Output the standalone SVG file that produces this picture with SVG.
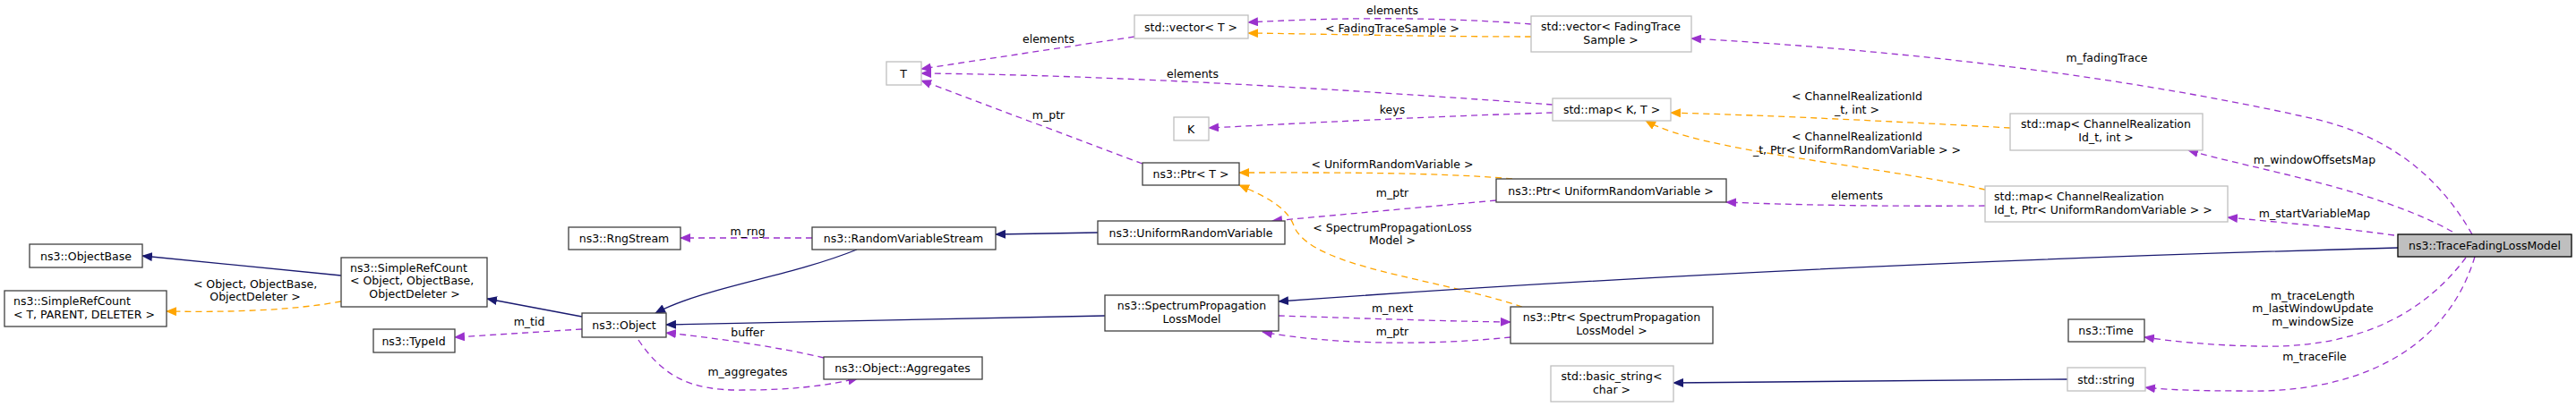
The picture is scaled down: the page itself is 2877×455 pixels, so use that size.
<svg xmlns="http://www.w3.org/2000/svg" width="2877" height="455" viewBox="0 0 2877 455">
<style>
text{font-family:"DejaVu Sans","Liberation Sans",sans-serif;font-size:12.5px;fill:#000}
.n{text-anchor:middle}
.b{fill:#fff;stroke:#404040;stroke-width:1.3}
.g{fill:#fff;stroke:#bfbfbf;stroke-width:1.3}
.m{fill:#bfbfbf;stroke:#000;stroke-width:1.3}
.inh{fill:none;stroke:#191970;stroke-width:1.3}
.use{fill:none;stroke:#9a32cd;stroke-width:1.3;stroke-dasharray:7,5}
.tpl{fill:none;stroke:#ffa500;stroke-width:1.3;stroke-dasharray:7,5}
</style>
<defs>
<marker id="ai" markerWidth="12" markerHeight="10" refX="11" refY="5" orient="auto" markerUnits="userSpaceOnUse"><path d="M0,0L12,5L0,10z" fill="#191970"/></marker>
<marker id="au" markerWidth="12" markerHeight="10" refX="11" refY="5" orient="auto" markerUnits="userSpaceOnUse"><path d="M0,0L12,5L0,10z" fill="#9a32cd"/></marker>
<marker id="at" markerWidth="12" markerHeight="10" refX="11" refY="5" orient="auto" markerUnits="userSpaceOnUse"><path d="M0,0L12,5L0,10z" fill="#ffa500"/></marker>
</defs>
<g id="edges">
<path class="inh" marker-end="url(#ai)" d="M381,308L159,286"/>
<path class="tpl" marker-end="url(#at)" d="M381,337C320,348 250,349 186,348"/>
<text class="n" x="285" y="322">&lt; Object, ObjectBase,</text>
<text class="n" x="285" y="336">ObjectDeleter &gt;</text>
<path class="inh" marker-end="url(#ai)" d="M650,354L544,334"/>
<path class="use" marker-end="url(#au)" d="M650,368L508,377"/>
<text class="n" x="591" y="364">m_tid</text>
<path class="inh" marker-end="url(#ai)" d="M957,279C880,310 790,320 732,350"/>
<path class="use" marker-end="url(#au)" d="M907,266L760,266"/>
<text class="n" x="835" y="263">m_rng</text>
<path class="inh" marker-end="url(#ai)" d="M1234,353L744,363"/>
<path class="use" marker-end="url(#au)" d="M920,400C870,388 800,378 744,372"/>
<text class="n" x="835" y="376">buffer</text>
<path class="use" marker-end="url(#au)" d="M713,380C740,420 770,437 830,436C880,436 920,432 958,423"/>
<text class="n" x="835" y="420">m_aggregates</text>
<path class="inh" marker-end="url(#ai)" d="M1226,260L1112,262"/>
<path class="use" marker-end="url(#au)" d="M1671,224L1421,247"/>
<text class="n" x="1555" y="220">m_ptr</text>
<path class="tpl" marker-end="url(#at)" d="M1689,200C1600,192 1470,193 1384,193"/>
<text class="n" x="1555" y="188">&lt; UniformRandomVariable &gt;</text>
<path class="tpl" marker-end="url(#at)" d="M1700,343C1600,310 1470,300 1446,255C1440,235 1420,222 1384,207"/>
<text class="n" x="1555" y="259">&lt; SpectrumPropagationLoss</text>
<text class="n" x="1555" y="273">Model &gt;</text>
<path class="use" marker-end="url(#au)" d="M1428,353C1500,355 1600,359 1687,360"/>
<text class="n" x="1555" y="349">m_next</text>
<path class="use" marker-end="url(#au)" d="M1687,377C1600,386 1490,386 1410,371"/>
<text class="n" x="1555" y="375">m_ptr</text>
<path class="inh" marker-end="url(#ai)" d="M2678,277C2200,290 1800,310 1428,337"/>
<path class="inh" marker-end="url(#ai)" d="M2309,424L1869,428"/>
<path class="tpl" marker-end="url(#at)" d="M1710,41C1600,41 1480,38 1394,37"/>
<text class="n" x="1555" y="36">&lt; FadingTraceSample &gt;</text>
<path class="use" marker-end="url(#au)" d="M1710,27C1600,18 1480,20 1394,25"/>
<text class="n" x="1555" y="16">elements</text>
<path class="use" marker-end="url(#au)" d="M1267,41L1029,77"/>
<text class="n" x="1171" y="48">elements</text>
<path class="use" marker-end="url(#au)" d="M1734,117C1500,100 1250,84 1029,82"/>
<text class="n" x="1332" y="87">elements</text>
<path class="use" marker-end="url(#au)" d="M1734,126C1600,130 1450,138 1350,143"/>
<text class="n" x="1555" y="127">keys</text>
<path class="use" marker-end="url(#au)" d="M1276,183L1029,90"/>
<text class="n" x="1171" y="133">m_ptr</text>
<path class="tpl" marker-end="url(#at)" d="M2245,143C2120,136 1980,129 1866,126"/>
<text class="n" x="2074" y="112">&lt; ChannelRealizationId</text>
<text class="n" x="2074" y="127">_t, int &gt;</text>
<path class="tpl" marker-end="url(#at)" d="M2217,212C2100,185 1900,170 1838,135"/>
<text class="n" x="2074" y="157">&lt; ChannelRealizationId</text>
<text class="n" x="2074" y="172">_t, Ptr&lt; UniformRandomVariable &gt; &gt;</text>
<path class="use" marker-end="url(#au)" d="M2217,230C2100,231 2000,229 1928,226"/>
<text class="n" x="2074" y="223">elements</text>
<path class="use" marker-end="url(#au)" d="M2761,262C2720,190 2660,150 2585,133C2350,80 2100,55 1889,43"/>
<text class="n" x="2353" y="69">m_fadingTrace</text>
<path class="use" marker-end="url(#au)" d="M2739,259C2650,210 2520,190 2444,168"/>
<text class="n" x="2585" y="183">m_windowOffsetsMap</text>
<path class="use" marker-end="url(#au)" d="M2674,263C2600,253 2540,248 2488,243"/>
<text class="n" x="2585" y="243">m_startVariableMap</text>
<path class="use" marker-end="url(#au)" d="M2754,288C2700,360 2620,390 2520,387C2470,386 2430,382 2395,377"/>
<text class="n" x="2583" y="335">m_traceLength</text>
<text class="n" x="2583" y="349">m_lastWindowUpdate</text>
<text class="n" x="2583" y="364">m_windowSize</text>
<path class="use" marker-end="url(#au)" d="M2764,287C2730,400 2620,440 2505,437C2460,437 2420,436 2396,433"/>
<text class="n" x="2585" y="403">m_traceFile</text>
</g>
<g id="ObjectBase"><rect class="b" x="33" y="273" width="126" height="26"/><text class="n" x="96" y="291">ns3::ObjectBase</text></g>
<g id="SimpleRefCountT"><rect class="b" x="5" y="325" width="181" height="40"/><text x="15" y="341">ns3::SimpleRefCount</text><text x="15" y="356">&lt; T, PARENT, DELETER &gt;</text></g>
<g id="SimpleRefCountObject"><rect class="b" x="381" y="288" width="163" height="55"/><text x="391" y="304">ns3::SimpleRefCount</text><text x="391" y="318">&lt; Object, ObjectBase,</text><text class="n" x="463" y="333">ObjectDeleter &gt;</text></g>
<g id="TypeId"><rect class="b" x="417" y="368" width="91" height="26"/><text class="n" x="462" y="386">ns3::TypeId</text></g>
<g id="Object"><rect class="b" x="650" y="350" width="94" height="27"/><text class="n" x="697" y="368">ns3::Object</text></g>
<g id="RngStream"><rect class="b" x="635" y="254" width="125" height="25"/><text class="n" x="697" y="271">ns3::RngStream</text></g>
<g id="RandomVariableStream"><rect class="b" x="907" y="254" width="205" height="25"/><text class="n" x="1009" y="271">ns3::RandomVariableStream</text></g>
<g id="Aggregates"><rect class="b" x="920" y="399" width="177" height="25"/><text class="n" x="1008" y="416">ns3::Object::Aggregates</text></g>
<g id="SpectrumPropagationLossModel"><rect class="b" x="1234" y="330" width="194" height="40"/><text class="n" x="1331" y="346">ns3::SpectrumPropagation</text><text class="n" x="1331" y="361">LossModel</text></g>
<g id="UniformRandomVariable"><rect class="b" x="1226" y="247" width="209" height="26"/><text class="n" x="1330" y="265">ns3::UniformRandomVariable</text></g>
<g id="PtrT"><rect class="b" x="1276" y="182" width="108" height="25"/><text class="n" x="1330" y="199">ns3::Ptr&lt; T &gt;</text></g>
<g id="PtrURV"><rect class="b" x="1671" y="200" width="257" height="26"/><text class="n" x="1799" y="218">ns3::Ptr&lt; UniformRandomVariable &gt;</text></g>
<g id="PtrSPLM"><rect class="b" x="1687" y="343" width="226" height="41"/><text class="n" x="1800" y="359">ns3::Ptr&lt; SpectrumPropagation</text><text class="n" x="1800" y="374">LossModel &gt;</text></g>
<g id="VectorT"><rect class="g" x="1267" y="17" width="127" height="26"/><text class="n" x="1330" y="35">std::vector&lt; T &gt;</text></g>
<g id="VectorFading"><rect class="g" x="1710" y="18" width="179" height="40"/><text class="n" x="1799" y="34">std::vector&lt; FadingTrace</text><text class="n" x="1799" y="49">Sample &gt;</text></g>
<g id="T"><rect class="g" x="990" y="69" width="39" height="26"/><text class="n" x="1009" y="87">T</text></g>
<g id="K"><rect class="g" x="1311" y="131" width="39" height="26"/><text class="n" x="1330" y="149">K</text></g>
<g id="MapKT"><rect class="g" x="1734" y="110" width="132" height="25"/><text class="n" x="1800" y="127">std::map&lt; K, T &gt;</text></g>
<g id="MapInt"><rect class="g" x="2245" y="127" width="215" height="41"/><text class="n" x="2352" y="143">std::map&lt; ChannelRealization</text><text class="n" x="2352" y="158">Id_t, int &gt;</text></g>
<g id="MapPtr"><rect class="g" x="2217" y="208" width="271" height="40"/><text x="2227" y="224">std::map&lt; ChannelRealization</text><text x="2227" y="239">Id_t, Ptr&lt; UniformRandomVariable &gt; &gt;</text></g>
<g id="TraceFadingLossModel"><rect class="m" x="2678" y="262" width="194" height="25"/><text class="n" x="2775" y="279">ns3::TraceFadingLossModel</text></g>
<g id="Time"><rect class="b" x="2310" y="357" width="85" height="25"/><text class="n" x="2352" y="374">ns3::Time</text></g>
<g id="String"><rect class="g" x="2309" y="411" width="87" height="26"/><text class="n" x="2352" y="429">std::string</text></g>
<g id="BasicString"><rect class="g" x="1732" y="409" width="137" height="40"/><text class="n" x="1800" y="425">std::basic_string&lt;</text><text class="n" x="1800" y="440">char &gt;</text></g>
</svg>
